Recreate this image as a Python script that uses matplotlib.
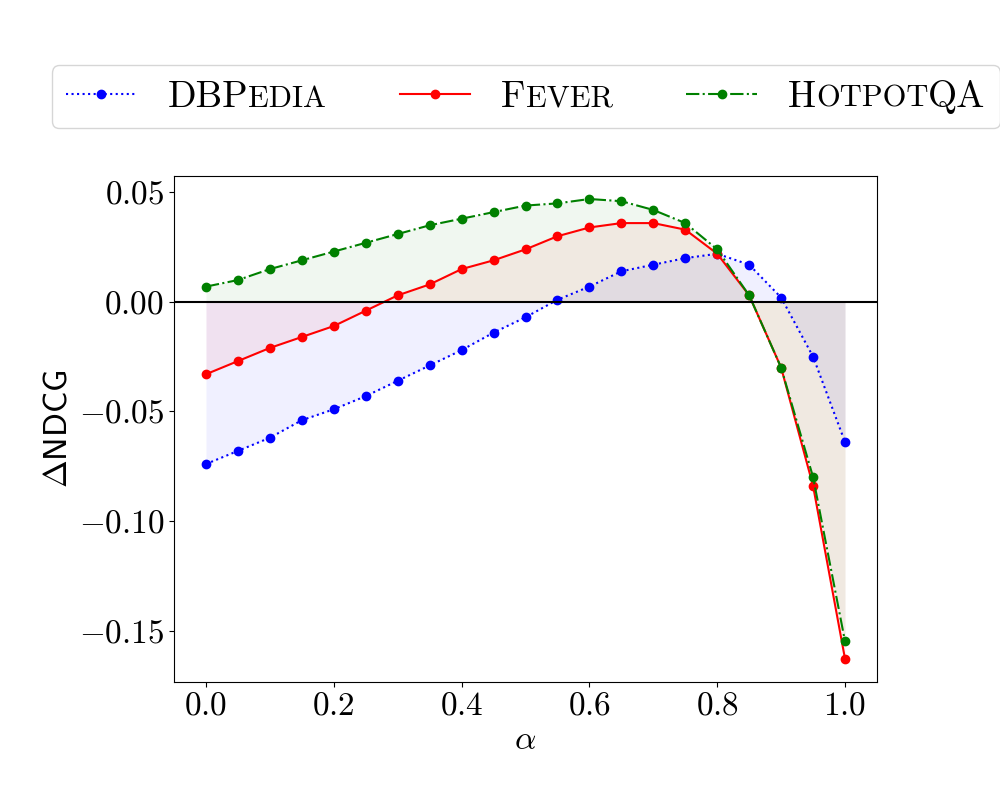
import matplotlib
matplotlib.use('Agg')
import matplotlib.pyplot as plt
from matplotlib.offsetbox import TextArea, HPacker

# alpha values on the x axis
alphas = [0.0, 0.05, 0.1, 0.15, 0.2, 0.25, 0.3, 0.35, 0.4, 0.45, 0.5,
          0.55, 0.6, 0.65, 0.7, 0.75, 0.8, 0.85, 0.9, 0.95, 1.0]

dbpedia = [-0.074, -0.068, -0.062, -0.054, -0.049, -0.043, -0.036, -0.029,
           -0.022, -0.014, -0.007, 0.001, 0.007, 0.014, 0.017, 0.020,
           0.022, 0.017, 0.002, -0.025, -0.064]
fever = [-0.033, -0.027, -0.021, -0.016, -0.011, -0.004, 0.003, 0.008,
         0.015, 0.019, 0.024, 0.030, 0.034, 0.036, 0.036, 0.033,
         0.022, 0.003, -0.030, -0.084, -0.163]
hotpotqa = [0.007, 0.010, 0.015, 0.019, 0.023, 0.027, 0.031, 0.035,
            0.038, 0.041, 0.044, 0.045, 0.047, 0.046, 0.042, 0.036,
            0.024, 0.003, -0.030, -0.080, -0.155]

names = ['DBPedia', 'Fever', 'HotpotQA']
# small caps: (text, is_capital)
name_parts = [[('DBP', True), ('EDIA', False)],
              [('F', True), ('EVER', False)],
              [('H', True), ('OTPOT', False), ('QA', True)]]
colors = ['blue', 'red', 'green']
styles = [':', '-', '-.']

xticks = [0.0, 0.2, 0.4, 0.6, 0.8, 1.0]
xtick_labels = [r'$0.0$', r'$0.2$', r'$0.4$', r'$0.6$', r'$0.8$', r'$1.0$']
yticks = [-0.15, -0.10, -0.05, 0.00, 0.05]
ytick_labels = [r'$-0.15$', r'$-0.10$', r'$-0.05$', r'$0.00$', r'$0.05$']

plt.rcParams['mathtext.fontset'] = 'cm'
plt.rcParams['font.family'] = 'serif'
plt.rcParams['font.serif'] = ['cmr10']
plt.rcParams['axes.formatter.use_mathtext'] = True

fig = plt.figure(figsize=(10, 8), dpi=100)
ax = fig.add_axes([0.174, 0.1475, 0.703, 0.6325])

for vals, name, c, ls in zip([dbpedia, fever, hotpotqa], names, colors, styles):
    ax.plot(alphas, vals, linestyle=ls, marker='o', color=c, lw=1.5, ms=6, label=name)
    ax.fill_between(alphas, vals, 0, color=c, alpha=0.06, lw=0)

ax.axhline(0, color='black', lw=1.5)
ax.set_xticks(xticks, xtick_labels, fontsize=24)
ax.set_yticks(yticks, ytick_labels, fontsize=24)
ax.set_xlabel(r'$\alpha$', fontsize=24)
ax.set_ylabel(r'$\Delta\mathsf{NDCG}$', fontsize=24)

leg = fig.legend(loc='center', bbox_to_anchor=(0.526, 0.879), ncol=3, fontsize=27,
                 handlelength=1.87, handletextpad=0.83, columnspacing=1.97,
                 borderpad=0.39)

# swap the label boxes for small caps versions
i = 0
for col in leg._legend_handle_box.get_children():
    for item in col.get_children():
        parts = []
        for s, cap in name_parts[i]:
            parts.append(TextArea(s, textprops=dict(fontsize=27 if cap else 22, family='cmr10')))
        box = HPacker(pad=0, sep=0, align='baseline', children=parts)
        box.set_figure(fig)
        item._children[1] = box
        i += 1

fig.savefig('out.png', dpi=100)
